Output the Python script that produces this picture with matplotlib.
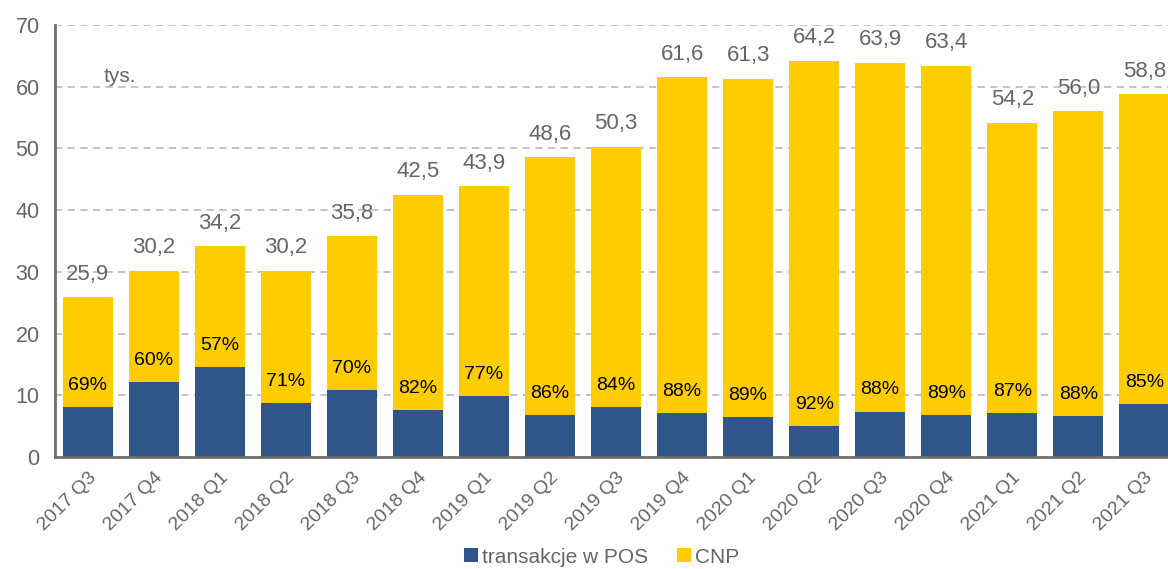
import matplotlib
matplotlib.use("Agg")
import matplotlib.pyplot as plt
import numpy as np

categories = ["2017 Q3", "2017 Q4", "2018 Q1", "2018 Q2", "2018 Q3", "2018 Q4",
              "2019 Q1", "2019 Q2", "2019 Q3", "2019 Q4", "2020 Q1", "2020 Q2",
              "2020 Q3", "2020 Q4", "2021 Q1", "2021 Q2", "2021 Q3"]
totals = [25.9, 30.2, 34.2, 30.2, 35.8, 42.5, 43.9, 48.6, 50.3, 61.6, 61.3, 64.2,
          63.9, 63.4, 54.2, 56.0, 58.8]
pos = [8.05, 12.1, 14.6, 8.75, 10.8, 7.6, 9.8, 6.8, 8.1, 7.1, 6.4, 5.05,
       7.35, 6.8, 7.1, 6.65, 8.55]
cnp_share = [69, 60, 57, 71, 70, 82, 77, 86, 84, 88, 89, 92, 88, 89, 87, 88, 85]

plt.rcParams['font.family'] = ['Liberation Sans', 'DejaVu Sans']

BLUE = "#2E5689"
YELLOW = "#FFCC00"
GREY = "#666666"

fig = plt.figure(figsize=(11.68, 5.69), dpi=100)
ax = fig.add_axes([0.047, 0.197, 0.953, 0.759])

x = np.arange(len(categories))
cnp = [t - p for t, p in zip(totals, pos)]
w = 0.76
ax.bar(x, pos, width=w, color=BLUE, label="transakcje w POS", zorder=2)
ax.bar(x, cnp, bottom=pos, width=w, color=YELLOW, label="CNP", zorder=2)

for xi, t, p, s in zip(x, totals, pos, cnp_share):
    ax.text(xi, t + 3.7, f"{t:.1f}".replace(".", ","), ha="center", va="center",
            fontsize=16, color=GREY)
    ax.text(xi, p + 3.5, f"{s}%", ha="center", va="center", fontsize=14,
            color="black")

ax.text(0.48, 61.7, "tys.", ha="center", va="center", fontsize=15, color=GREY)

ax.set_xlim(-0.5, 16.36)
ax.set_ylim(0, 70)
ax.set_yticks(range(0, 71, 10))
ax.set_xticks(x)
ax.set_xticklabels(categories, rotation=45, ha="right", rotation_mode="anchor")
ax.tick_params(axis="y", length=0, labelsize=15.5, labelcolor=GREY, pad=11)
ax.tick_params(axis="x", length=0, labelsize=14, labelcolor=GREY, pad=9)

ax.grid(axis="y", color="#BFBFBF", linestyle=(0, (4, 3)), linewidth=1.3, zorder=0)
ax.set_axisbelow(True)
for side in ["top", "right"]:
    ax.spines[side].set_visible(False)
for side in ["left", "bottom"]:
    ax.spines[side].set_color("#6E6E6E")
    ax.spines[side].set_linewidth(2)
    ax.spines[side].set_zorder(3)

leg = fig.legend(loc="center", bbox_to_anchor=(0.515, 0.021), ncol=2,
                 frameon=False, fontsize=15, handlelength=0.65, handleheight=0.65,
                 handletextpad=0.2, columnspacing=1.4)
for t in leg.get_texts():
    t.set_color(GREY)

fig.savefig("out.png", dpi=100)
